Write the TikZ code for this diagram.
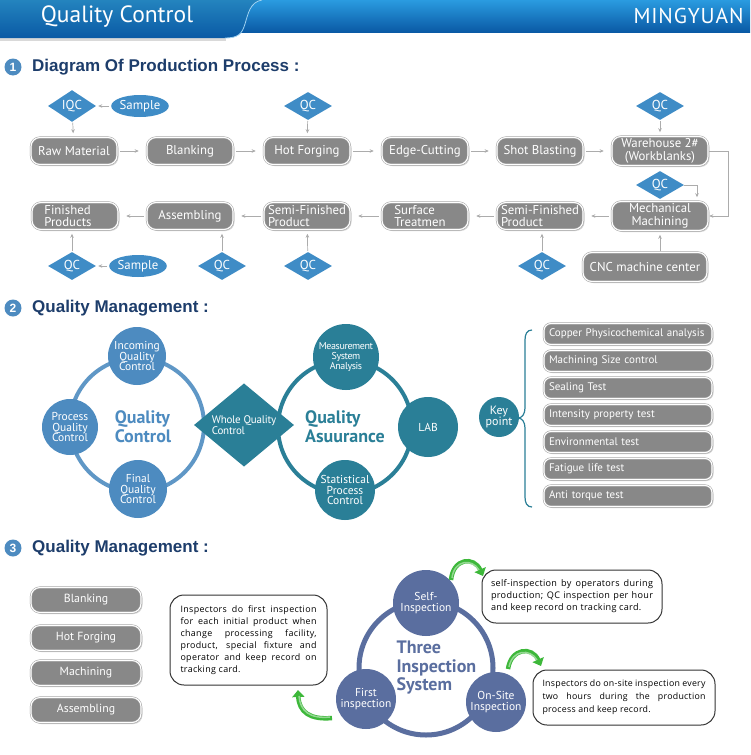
\documentclass[tikz,border=0pt]{standalone}
\usepackage{fontspec}
\setmainfont{PT Sans}
\newfontfamily\ttl{Liberation Sans}
\newfontfamily\bdy{Open Sans}
\usetikzlibrary{shapes.geometric,arrows.meta,shadows}
\definecolor{boxgray}{HTML}{888888}
\definecolor{qcblue}{HTML}{3F8CC6}
\definecolor{navy}{HTML}{1D3D6B}
\definecolor{qcA}{HTML}{4D8BC0}
\definecolor{teal}{HTML}{2A7F97}
\definecolor{slate}{HTML}{5A6E9F}
\definecolor{hdrtop}{HTML}{2A9BE0}
\definecolor{hdrbot}{HTML}{0A5AA5}
\definecolor{gArrow}{HTML}{3DB83A}
\begin{document}
\begin{tikzpicture}[x=1pt,y=-1pt,
 pbox/.style={rounded corners=9pt, fill=boxgray, draw=gray!75, double=white, double distance=1.1pt, line width=0.5pt,
   minimum width=86pt, minimum height=27pt, text=white, font=\fontsize{12.8}{13}\selectfont, align=center, inner sep=1pt,
   drop shadow={shadow xshift=1.5pt,shadow yshift=-1.5pt,opacity=0.35}},
 kbox/.style={pbox, rounded corners=7pt, minimum width=168pt, minimum height=21pt, text width=158pt, align=left, font=\fontsize{11}{12}\selectfont},
 sbox/.style={pbox, minimum width=110pt, minimum height=25pt, font=\fontsize{11.8}{12}\selectfont},
 qc/.style={diamond, fill=qcblue, text=white, minimum width=48pt, minimum height=25pt, inner sep=0pt, font=\fontsize{13}{13}\selectfont},
 smp/.style={ellipse, fill=qcblue, text=white, minimum width=50pt, minimum height=22pt, inner sep=0pt, font=\fontsize{12.8}{13}\selectfont},
 flow/.style={draw=gray!65, line width=0.7pt, -{Stealth[length=4pt,width=3.5pt]}, shorten >=8pt, shorten <=3pt},
 vflow/.style={flow, shorten >=4pt, shorten <=1pt},
 dot/.style={circle, text=white, inner sep=0pt, align=center, font=\fontsize{11.5}{10.8}\selectfont},
 num/.style={circle, fill=qcA, text=white, minimum size=17pt, inner sep=0pt, font=\ttl\bfseries\fontsize{12}{12}\selectfont},
 sect/.style={anchor=west, inner sep=0pt, text=navy, font=\ttl\bfseries\fontsize{17}{18}\selectfont},
 tbox/.style={draw=black!80, line width=1pt, fill=white, rounded corners=14pt, inner sep=0pt},
 garrow/.style={line width=4.5pt, draw=gArrow, -{Triangle[length=7pt,width=12pt]}},
 ginner/.style={line width=1.5pt, draw=white, opacity=0.45}
]
\useasboundingbox (0,0) rectangle (750,755);
\fill[white] (0,0) rectangle (750,755);
% header
\shade[top color=hdrtop, bottom color=hdrbot] (0,0) rectangle (750,32);
\fill[gray!30] (0,38) rectangle (226,40.5);
\shade[top color=hdrtop!85!black, bottom color=hdrbot] (0,0) -- (262,0) .. controls (250,2) and (248,14) .. (245,24) .. controls (242,34) and (238,38) .. (225,38) -- (0,38) -- cycle;
\draw[hdrtop!45!white, line width=0.8pt] (262,0) .. controls (250,2) and (248,14) .. (245,24) .. controls (242,34) and (238,38) .. (225,38);
\node[text=white, font=\fontsize{23.5}{25}\selectfont] (hdr) at (117,17) {Quality Control};
\node[text=white, font=\fontsize{21.5}{22}\selectfont\addfontfeatures{LetterSpace=4}, anchor=east] (brand) at (747,16) {MINGYUAN};

% section 1
\node[num] (n1) at (13,67) {1};
\node[sect] (s1) at (32,67) {Diagram Of Production Process :};

\node[pbox] (rm) at (74,151) {Raw Material};
\node[pbox] (bl) at (190,151) {Blanking};
\node[pbox] (hf) at (307,151) {Hot Forging};
\node[pbox] (ec) at (425,151) {Edge-Cutting};
\node[pbox] (sb) at (540,151) {Shot Blasting};
\node[pbox, minimum width=96pt, minimum height=29pt] (wh) at (660,151) {Warehouse 2\#\\[-0.5pt](Workblanks)};
\node[pbox, align=left] (fp) at (75,216) {Finished\\[-0.5pt]Products\hspace*{14pt}};
\node[pbox] (as) at (190,216) {Assembling};
\node[pbox, align=left] (sf1) at (307,216) {Semi-Finished\\[-0.5pt]Product\hspace*{26pt}};
\node[pbox, align=left] (st) at (425,216) {Surface\hspace*{20pt}\\[-0.5pt]Treatmen\hspace*{10pt}};
\node[pbox, align=left] (sf2) at (540,216) {Semi-Finished\\[-0.5pt]Product\hspace*{26pt}};
\node[pbox, minimum width=96pt, minimum height=29pt] (mm) at (660,216) {Mechanical\\[-0.5pt]Machining};
\node[pbox, minimum width=124pt, minimum height=29pt] (cnc) at (645,267) {CNC machine center};

\node[qc] (iqc) at (72,106) {IQC};
\node[smp] (sa1) at (140,106) {Sample};
\node[qc] (qc1) at (308,106) {QC};
\node[qc] (qc2) at (660,106) {QC};
\node[qc] (qc3) at (660,185) {QC};
\node[qc] (qc4) at (72,266) {QC};
\node[smp] (sa2) at (138,266) {Sample};
\node[qc] (qc5) at (222,266) {QC};
\node[qc] (qc6) at (308,266) {QC};
\node[qc] (qc7) at (542,266) {QC};

\draw[flow] (rm) -- (bl);
\draw[flow] (bl) -- (hf);
\draw[flow] (hf) -- (ec);
\draw[flow] (ec) -- (sb);
\draw[flow] (sb) -- (wh);
\draw[flow] (mm) -- (sf2);
\draw[flow] (sf2) -- (st);
\draw[flow] (st) -- (sf1);
\draw[flow] (sf1) -- (as);
\draw[flow] (as) -- (fp);
\draw[flow, shorten >=2pt, shorten <=2pt] (sa1) -- (iqc);
\draw[flow, shorten >=2pt, shorten <=2pt] (sa2) -- (qc4);
\draw[vflow] (iqc) -- (rm);
\draw[vflow] (qc1) -- (hf);
\draw[vflow] (qc2) -- (wh);
\draw[vflow] (qc4) -- (fp.south -| qc4);
\draw[vflow] (qc5) -- (as.south -| qc5);
\draw[vflow] (qc6) -- (sf1);
\draw[vflow] (qc7) -- (sf2.south -| qc7);
\draw[vflow] (cnc.north -| mm.south) -- (mm.south);
\draw[vflow, shorten <=0pt] (qc3.east) -| ([xshift=37pt]mm.north);
\draw[vflow, shorten <=1pt, shorten >=1pt] (wh.east) -- ++(20,0) |- (mm.east);

% section 2
\node[num] (n2) at (13,308) {2};
\node[sect] (s2) at (32,308) {Quality Management :};

\draw[qcA!90!white, line width=4pt] (137,425) circle[radius=67];
\node[dot, fill=qcA, minimum size=58pt] (iqcc) at (137,356) {Incoming\\Quality\\Control};
\node[dot, fill=qcA, minimum size=56pt] (pqc) at (70,427) {Process\\Quality\\Control};
\node[dot, fill=qcA, minimum size=58pt] (fqc) at (138,489) {Final\\Quality\\Control};
\node[text=qcA, align=left, font=\bfseries\fontsize{18}{19}\selectfont] (qct) at (143,427) {Quality\\Control};

\draw[teal, line width=4pt] (345,427) circle[radius=67];
\node[dot, fill=teal, minimum size=66pt, font=\fontsize{10}{10}\selectfont\addfontfeatures{LetterSpace=-4}] (msa) at (346,357) {Measurement\\System\\Analysis};
\node[dot, fill=teal, minimum size=60pt] (lab) at (428,427) {LAB};
\node[dot, fill=teal, minimum size=60pt] (spc) at (345,490) {Statistical\\Process\\Control};
\node[text=teal, align=left, font=\bfseries\fontsize{18}{19}\selectfont] (qat) at (345,427) {Quality\\Asuurance};

\node[diamond, fill=teal, minimum width=100pt, minimum height=54pt, inner sep=0pt, text=white, align=left, font=\fontsize{11}{11}\selectfont\addfontfeatures{LetterSpace=-2}] (wqc) at (244,425) {Whole Quality\\Control};

\node[dot, fill=teal, minimum size=40pt, font=\fontsize{12}{11.5}\selectfont] (key) at (499,417) {Key\\point};
\draw[teal, line width=1.2pt] (532,330) .. controls (527,330) and (525,334) .. (525,340) -- (525,408) .. controls (525,414) and (522,418) .. (518,418) .. controls (522,418) and (525,422) .. (525,428) -- (525,497) .. controls (525,503) and (527,507) .. (532,507);

\node[kbox] (k1) at (628,334) {\mbox{Copper Physicochemical analysis}};
\node[kbox] (k2) at (628,361) {Machining Size control};
\node[kbox] (k3) at (628,388) {Sealing Test};
\node[kbox] (k4) at (628,415) {Intensity property test};
\node[kbox] (k5) at (628,442) {Environmental test};
\node[kbox] (k6) at (628,469) {Fatigue life test};
\node[kbox] (k7) at (628,496) {Anti torque test};

% section 3
\node[num] (n3) at (13,548) {3};
\node[sect] (s3) at (32,548) {Quality Management :};

\node[sbox] (b1) at (86,600) {Blanking};
\node[sbox] (b2) at (86,638) {Hot Forging};
\node[sbox] (b3) at (86,673) {Machining};
\node[sbox] (b4) at (86,710) {Assembling};

\node[tbox, minimum width=157pt, minimum height=90pt] (t1) at (248.5,640) {};
\node (t1t) at (t1.center) {\parbox{136pt}{\bdy\fontsize{8.9}{12}\selectfont\addfontfeatures{LetterSpace=4}%
\makebox[136pt][s]{Inspectors do first inspection}\\
\makebox[136pt][s]{for each initial product when}\\
\makebox[136pt][s]{change processing facility,}\\
\makebox[136pt][s]{product, special fixture and}\\
\makebox[136pt][s]{operator and keep record on}\\
tracking card.}};

\node[tbox, minimum width=180pt, minimum height=53pt] (t2) at (572,596.5) {};
\node (t2t) at (t2.center) {\parbox{162pt}{\bdy\fontsize{9.1}{12}\selectfont\addfontfeatures{LetterSpace=3.5}%
\makebox[162pt][s]{self-inspection by operators during}\\
\makebox[162pt][s]{production; QC inspection per hour}\\
and keep record on tracking card.}};

\node[tbox, minimum width=182pt, minimum height=55pt] (t3) at (624,697.5) {};
\node (t3t) at (t3.center) {\parbox{163pt}{\bdy\fontsize{8.8}{13}\selectfont\addfontfeatures{LetterSpace=3}%
\makebox[163pt][s]{Inspectors do on-site inspection every}\\
\makebox[163pt][s]{two hours during the production}\\
process and keep record.}};

\draw[slate, line width=5pt] (426,668) circle[radius=67];
\node[dot, fill=slate, minimum size=66pt] (self) at (426,603) {Self-\\Inspection};
\node[dot, fill=slate, minimum size=60pt] (first) at (366,699) {First\\inspection};
\node[dot, fill=slate, minimum size=60pt] (onsite) at (496,702) {On-Site\\Inspection};
\node[anchor=west, text=slate, align=left, font=\bfseries\fontsize{18}{18.5}\selectfont] (tis) at (393,668) {Three\\Inspection\\System};

\draw[garrow] (332,718) .. controls (310,720) and (299,712) .. (298,690);
\draw[ginner] (330,717) .. controls (310,719) and (300,711) .. (299,696);
\draw[garrow] (451,580) .. controls (453,558) and (474,556) .. (483,576);
\draw[ginner] (452,578) .. controls (454,560) and (472,558) .. (479,570);
\draw[garrow] (508,669) .. controls (511,648) and (532,646) .. (541,666);
\draw[ginner] (509,667) .. controls (512,650) and (530,648) .. (537,660);
\end{tikzpicture}
\end{document}
